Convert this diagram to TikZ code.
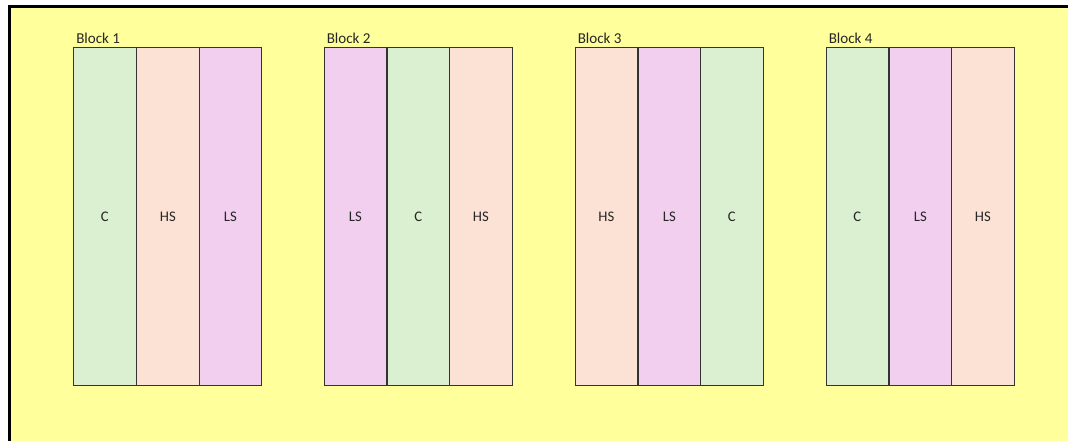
\documentclass[tikz,border=0pt]{standalone}
\usepackage{fontspec}
\setmainfont{Carlito}
\usepackage{xcolor}
\usepackage{tikz}

\definecolor{sheetyellow}{HTML}{FFFF9B}
\definecolor{cgreen}{HTML}{DAF0D0}
\definecolor{hspeach}{HTML}{FBE2D5}
\definecolor{lspink}{HTML}{F2CEEF}

\begin{document}
\begin{tikzpicture}[x=0.75pt,y=-0.75pt,
                    col/.style={draw=black!80, line width=0.75pt, inner sep=0pt,
                                minimum width=47.1pt, minimum height=253.5pt,
                                anchor=north west, text=black!85,
                                font=\fontsize{11}{13}\selectfont},
                    C/.style={col, fill=cgreen},
                    HS/.style={col, fill=hspeach},
                    LS/.style={col, fill=lspink},
                    blocklabel/.style={inner sep=0pt, anchor=south west, text=black!85,
                                       font=\fontsize{11.3}{13}\selectfont}]

  \useasboundingbox (0,0) rectangle (1068,441);
  \fill[sheetyellow] (10,7) rectangle (1068,441);
  \draw[black,line width=1.6pt] (9.5,441) -- (9.5,6.5) -- (1068,6.5);

  % block 1
  \node[blocklabel] (lab1) at (76,44) {Block 1};
  \node[C]  (b1a) at (73,47)  {C};
  \node[HS] (b1b) at (136,47) {HS};
  \node[LS] (b1c) at (198.5,47) {LS};

  % block 2
  \node[blocklabel] (lab2) at (326.5,44) {Block 2};
  \node[LS] (b2a) at (323.5,47)  {LS};
  \node[C]  (b2b) at (386.5,47)  {C};
  \node[HS] (b2c) at (449,47) {HS};

  % block 3
  \node[blocklabel] (lab3) at (577.5,44) {Block 3};
  \node[HS] (b3a) at (574.5,47)  {HS};
  \node[LS] (b3b) at (637.5,47)  {LS};
  \node[C]  (b3c) at (700,47) {C};

  % block 4
  \node[blocklabel] (lab4) at (828.5,44) {Block 4};
  \node[C]  (b4a) at (825.5,47)  {C};
  \node[LS] (b4b) at (888.5,47)  {LS};
  \node[HS] (b4c) at (951,47) {HS};
\end{tikzpicture}
\end{document}
